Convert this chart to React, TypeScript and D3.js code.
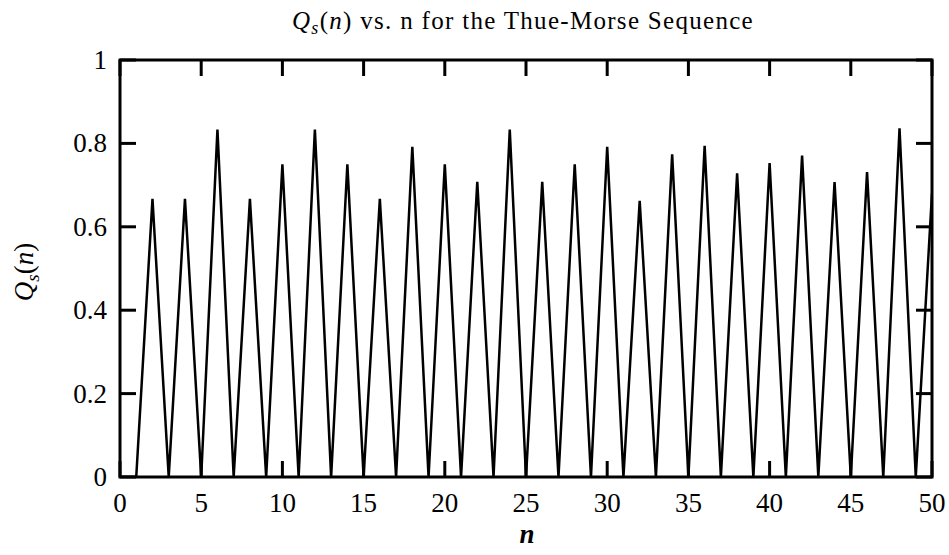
import React from "react";
import * as d3 from "d3";

const nValues: number[] = [0, 1, 2, 3, 4, 5, 6, 7, 8, 9, 10, 11, 12, 13, 14, 15, 16, 17, 18, 19, 20, 21, 22, 23, 24, 25, 26, 27, 28, 29, 30, 31, 32, 33, 34, 35, 36, 37, 38, 39, 40, 41, 42, 43, 44, 45, 46, 47, 48, 49, 50];
const qValues: number[] = [0, 0, 0.667, 0, 0.667, 0, 0.833, 0, 0.667, 0, 0.75, 0, 0.833, 0, 0.75, 0, 0.667, 0, 0.792, 0, 0.75, 0, 0.708, 0, 0.833, 0, 0.708, 0, 0.75, 0, 0.792, 0, 0.662, 0, 0.774, 0, 0.794, 0, 0.728, 0, 0.753, 0, 0.771, 0, 0.707, 0, 0.731, 0, 0.836, 0, 0.68];
const xTicks: number[] = [0, 5, 10, 15, 20, 25, 30, 35, 40, 45, 50];
const yTicks: number[] = [0, 0.2, 0.4, 0.6, 0.8, 1];
const yTickLabels: string[] = ["0", "0.2", "0.4", "0.6", "0.8", "1"];

export default function App() {
  const W = 949, H = 555;
  const left = 120, right = 932, top = 60, bottom = 477;
  const x = d3.scaleLinear().domain([0, 50]).range([left, right]);
  const y = d3.scaleLinear().domain([0, 1]).range([bottom, top]);
  const line = d3.line<number>().x((_, i) => x(nValues[i])).y((d) => y(d));
  const path = line(qValues) || "";
  const tl = 16;
  const font = "'Liberation Serif', 'DejaVu Serif', serif";
  return (
    <svg width={W} height={H} style={{ position: "absolute", left: 0, top: 0, background: "#fff" }}>
      <defs>
        <clipPath id="plotclip">
          <rect x={left} y={top} width={right - left} height={bottom - top} />
        </clipPath>
      </defs>
      <text x={523} y={29} textAnchor="middle" fontFamily={font} fontSize={25} letterSpacing={1.3} fill="#000">
        <tspan fontStyle="italic">Q</tspan>
        <tspan fontStyle="italic" fontSize={18} dy={5}>s</tspan>
        <tspan dy={-5}>(</tspan>
        <tspan fontStyle="italic">n</tspan>
        <tspan>) vs. n for the Thue-Morse Sequence</tspan>
      </text>
      <path d={path} fill="none" stroke="#000" strokeWidth={2.5} strokeLinejoin="miter" clipPath="url(#plotclip)" />
      {xTicks.map((t) => (
        <g key={"x" + t}>
          <line x1={x(t)} x2={x(t)} y1={bottom} y2={bottom - tl} stroke="#000" strokeWidth={3} />
          <line x1={x(t)} x2={x(t)} y1={top} y2={top + tl} stroke="#000" strokeWidth={3} />
          <text x={x(t)} y={512} textAnchor="middle" fontFamily={font} fontSize={27} fill="#000">{t}</text>
        </g>
      ))}
      {yTicks.map((t, i) => (
        <g key={"y" + t}>
          <line x1={left} x2={left + tl} y1={y(t)} y2={y(t)} stroke="#000" strokeWidth={3} />
          <line x1={right} x2={right - tl} y1={y(t)} y2={y(t)} stroke="#000" strokeWidth={3} />
          <text x={107} y={y(t) + 9} textAnchor="end" fontFamily={font} fontSize={27} fill="#000">{yTickLabels[i]}</text>
        </g>
      ))}
      <rect x={left} y={top} width={right - left} height={bottom - top} fill="none" stroke="#000" strokeWidth={3} />
      <text transform={`translate(33, 272) rotate(-90)`} textAnchor="middle" fontFamily={font} fontSize={27} fill="#000">
        <tspan fontStyle="italic">Q</tspan>
        <tspan fontStyle="italic" fontSize={19} dy={6}>s</tspan>
        <tspan dy={-6}>(</tspan>
        <tspan fontStyle="italic">n</tspan>
        <tspan>)</tspan>
      </text>
      <text x={527} y={543} textAnchor="middle" fontFamily={font} fontStyle="italic" fontWeight="bold" fontSize={27} fill="#000">n</text>
    </svg>
  );
}
